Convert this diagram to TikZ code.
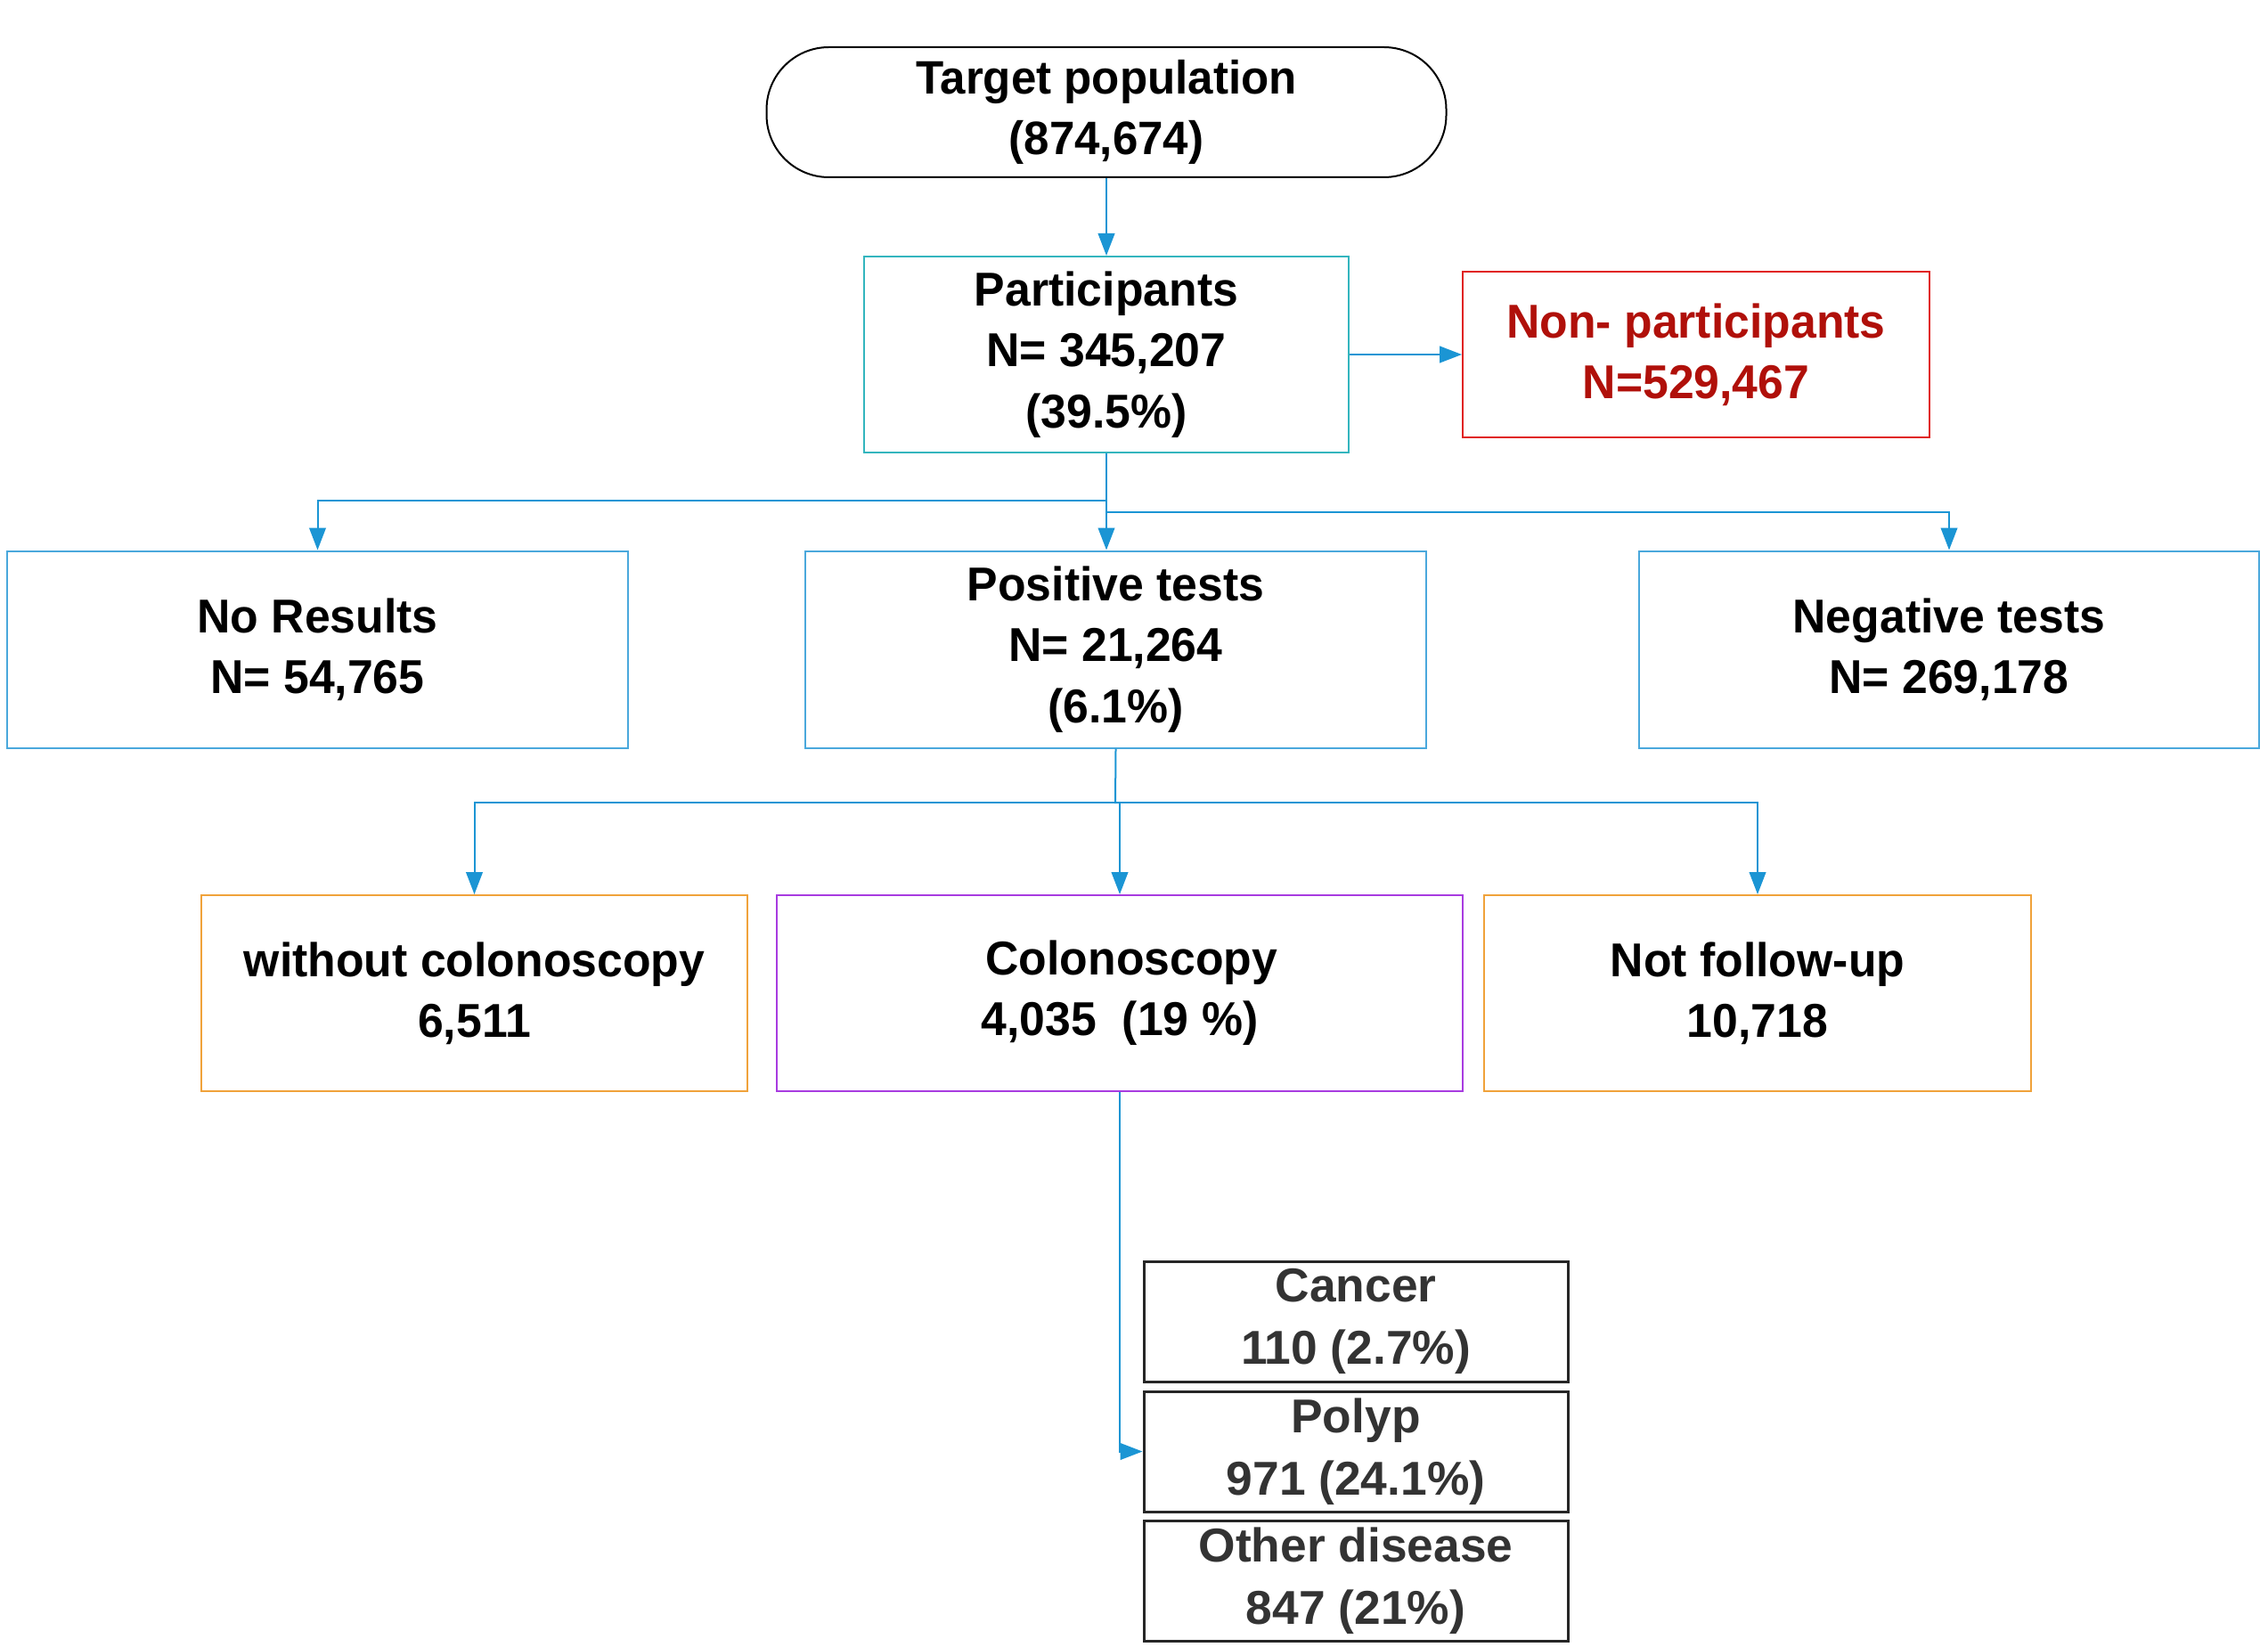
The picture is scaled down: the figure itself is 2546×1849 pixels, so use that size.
\documentclass[tikz,border=0pt]{standalone}
\usepackage{fontspec}
\setmainfont{Liberation Sans}
\newfontfamily\narrowfont[FakeStretch=0.97]{Liberation Sans}
\usetikzlibrary{arrows.meta}
\definecolor{arrowblue}{HTML}{1B95D4}
\definecolor{tealc}{HTML}{33B5BE}
\definecolor{lightblue}{HTML}{4AA8DC}
\definecolor{redborder}{HTML}{E0201E}
\definecolor{redtext}{HTML}{B0100A}
\definecolor{orangec}{HTML}{F0A23A}
\definecolor{purplec}{HTML}{A83BE0}
\definecolor{graytext}{HTML}{333333}
\tikzset{
  box/.style={draw, line width=0.6pt, inner sep=0pt, align=center,
    font=\narrowfont\fontsize{16}{20.5}\selectfont\bfseries},
  smallbox/.style={draw=black!85, line width=0.9pt, inner sep=0pt, align=center,
    minimum width=142.8pt, minimum height=40.5pt, text=graytext,
    font=\fontsize{16}{21}\selectfont\bfseries},
  conn/.style={draw=arrowblue, line width=0.6pt},
  arr/.style={conn, -{Triangle[length=7.5pt,width=5.6pt]}}
}
\begin{document}
\begin{tikzpicture}[x=0.3pt,y=-0.3pt]
\useasboundingbox (0,0) rectangle (2546,1849);
\node[box, draw=black, rounded corners=21pt, minimum width=228.9pt, minimum height=43.8pt,
  font=\narrowfont\fontsize{15.8}{20.5}\selectfont\bfseries] (target) at (1242,126) {Target population\\(874,674)};
\node[box, draw=tealc, minimum width=163.2pt, minimum height=66pt] (part) at (1242,398) {Participants\\N= 345,207\\(39.5\%)};
\node[box, draw=redborder, text=redtext, minimum width=157.2pt, minimum height=55.8pt] (nonpart) at (1904,398) {Non- participants\\N=529,467};
\node[box, draw=lightblue, minimum width=209.1pt, minimum height=66.3pt] (nores) at (356.5,729) {No Results\\N= 54,765};
\node[box, draw=lightblue, minimum width=209.1pt, minimum height=66.3pt] (pos) at (1252.5,729) {Positive tests\\N= 21,264\\(6.1\%)};
\node[box, draw=lightblue, minimum width=208.8pt, minimum height=66.3pt] (neg) at (2188,729) {Negative tests\\N= 269,178};
\node[box, draw=orangec, minimum width=183.9pt, minimum height=66pt] (without) at (532.5,1115) {without colonoscopy\\6,511};
\node[box, draw=purplec, minimum width=231pt, minimum height=66pt] (colo) at (1257,1115) {\hspace*{8pt}Colonoscopy\\4,035~ (19~\%)};
\node[box, draw=orangec, minimum width=184.2pt, minimum height=66pt] (notfu) at (1973,1115) {Not follow-up\\10,718};
\node[smallbox] (cancer) at (1522,1483.5) {Cancer\\110 (2.7\%)};
\node[smallbox] (polyp) at (1522,1629.5) {Polyp\\971 (24.1\%)};
\node[smallbox] (other) at (1522,1775) {Other disease\\847 (21\%)};
% connectors
\draw[arr] (target.south) -- (part.north);
\draw[arr] (part.east) -- (nonpart.west);
\coordinate (j1) at (1242,562);
\coordinate (j2) at (1242,575);
\draw[conn] (part.south) -- (j2);
\draw[arr] (j1) -| (nores.north);
\draw[arr] (j2) -- (pos.north -| j2);
\draw[arr] (j2) -| (neg.north);
\coordinate (j3) at (1252,901);
\coordinate (j4) at (1257,901);
\draw[conn] (pos.south) -- (j3) -- (j4);
\draw[arr] (j3) -| (without.north);
\draw[arr] (j3) -| (notfu.north);
\draw[arr] (j4) -- (colo.north);
\draw[arr] (colo.south) |- (polyp.west);
\end{tikzpicture}
\end{document}
